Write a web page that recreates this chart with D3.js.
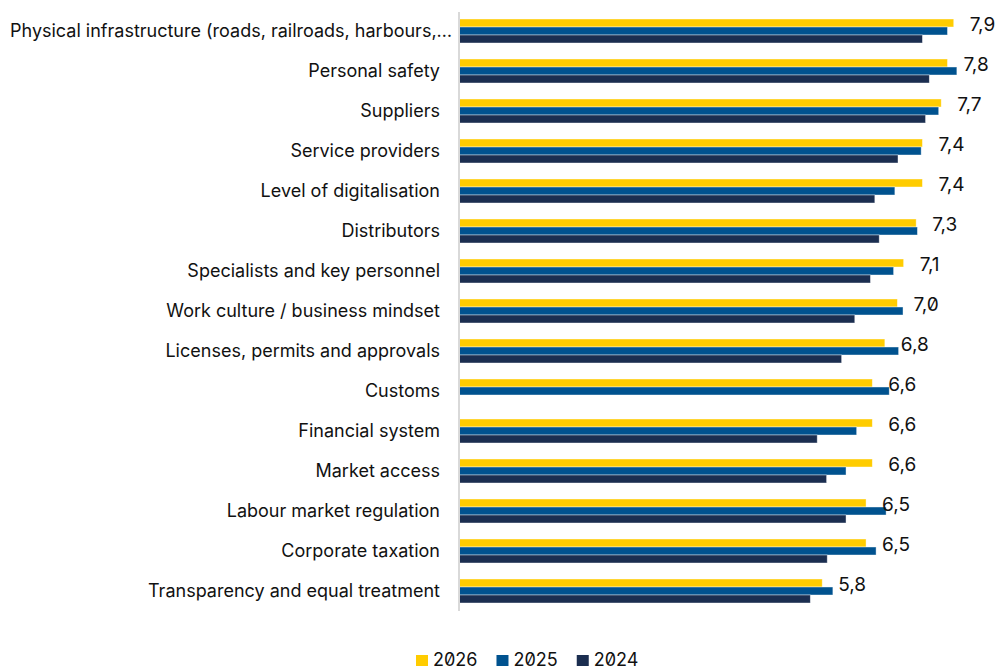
<!DOCTYPE html>
<html>
<head>
<meta charset="utf-8">
<script src="https://cdn.jsdelivr.net/npm/d3@7"></script>
<style>
  html, body { margin: 0; padding: 0; background: #fff; }
  svg { display: block; }
  .cat text { font-family: Inter, "Noto Sans", sans-serif; font-size: 18px; fill: #111; }
  .num { font-family: Inter, "Noto Sans", sans-serif; font-size: 19px; fill: #111; font-feature-settings: "zero" 1; }
  .legend text { font-family: Inter, "Noto Sans", sans-serif; font-size: 18px; fill: #111; font-feature-settings: "zero" 1; }
</style>
</head>
<body>
<svg id="chart" width="995" height="668"></svg>
<script>
// Location factors, rated per year
const categories = [
  "Physical infrastructure (roads, railroads, harbours,…",
  "Personal safety",
  "Suppliers",
  "Service providers",
  "Level of digitalisation",
  "Distributors",
  "Specialists and key personnel",
  "Work culture / business mindset",
  "Licenses, permits and approvals",
  "Customs",
  "Financial system",
  "Market access",
  "Labour market regulation",
  "Corporate taxation",
  "Transparency and equal treatment"
];
const seriesNames = ["2026", "2025", "2024"];
const values2026 = [7.9, 7.8, 7.7, 7.4, 7.4, 7.3, 7.1, 7.0, 6.8, 6.6, 6.6, 6.6, 6.5, 6.5, 5.8];
const values2025 = [7.80, 7.95, 7.66, 7.38, 6.96, 7.32, 6.94, 7.09, 7.02, 6.87, 6.35, 6.18, 6.82, 6.66, 5.97];
const values2024 = [7.40, 7.51, 7.45, 7.01, 6.64, 6.71, 6.57, 6.32, 6.11, null, 5.72, 5.87, 6.18, 5.88, 5.61];
const seriesColors = ["#FFCC00", "#00528F", "#1B2E50"];

const seriesValues = [values2026, values2025, values2024];
const rows = categories.map((c, i) => ({
  category: c,
  values: seriesNames.map((s, k) => ({ series: s, value: seriesValues[k][i] }))
}));

const svg = d3.select("#chart");

const x = d3.scaleLinear().domain([0, 8]).range([459, 960]);
const y = d3.scaleBand().domain(categories).range([11, 611])
  .paddingInner(0.4).paddingOuter(0.2);
const ySub = d3.scaleBand().domain(seriesNames).range([0, y.bandwidth()]);
const color = d3.scaleOrdinal().domain(seriesNames).range(seriesColors);

const fmt = d3.formatLocale({ decimal: ",", thousands: " ", grouping: [3], currency: ["", ""] }).format(".1f");

// Bars
const groups = svg.append("g").selectAll("g")
  .data(rows).join("g")
  .attr("transform", d => `translate(0,${y(d.category)})`);

groups.selectAll("rect")
  .data(d => d.values.filter(v => v.value != null))
  .join("rect")
  .attr("x", x(0))
  .attr("y", d => ySub(d.series))
  .attr("width", d => x(d.value) - x(0))
  .attr("height", ySub.bandwidth())
  .attr("fill", d => color(d.series))
  .attr("stroke", "rgba(255,255,255,0.55)")
  .attr("stroke-width", 0.75);

// Category axis
const axis = svg.append("g")
  .attr("class", "cat")
  .attr("transform", `translate(${x(0)},0)`)
  .call(d3.axisLeft(y).tickSize(0).tickSizeOuter(0).tickPadding(19));
axis.select(".domain")
  .attr("stroke", "#d9d9d9")
  .attr("stroke-width", 2)
  .attr("d", `M0,${y.range()[0] + 1}V${y.range()[1]}`);
axis.selectAll(".tick text")
  .attr("font-family", null).attr("font-size", null)
  .attr("dy", "0.36em")
  .each(function () {
    // Long labels run from the left margin instead of past the edge
    const b = this.getBBox();
    if (x(0) + b.x < 10) {
      d3.select(this).attr("text-anchor", "start").attr("x", 10 - x(0));
    }
  });

// 2026 value labels
svg.append("g").selectAll("text")
  .data(rows).join("text")
  .attr("class", "num")
  .attr("x", d => x(d.values[0].value) + 16)
  .attr("y", d => y(d.category) + y.bandwidth() / 2)
  .text(d => fmt(d.values[0].value));

// Legend
const legend = svg.append("g").attr("class", "legend");
let lx = 416;
seriesNames.forEach(s => {
  legend.append("rect")
    .attr("x", lx).attr("y", 655)
    .attr("width", 12).attr("height", 11)
    .attr("fill", color(s));
  const t = legend.append("text")
    .attr("x", lx + 17).attr("y", 666)
    .text(s);
  lx += 17 + t.node().getComputedTextLength() + 19;
});
</script>
</body>
</html>
